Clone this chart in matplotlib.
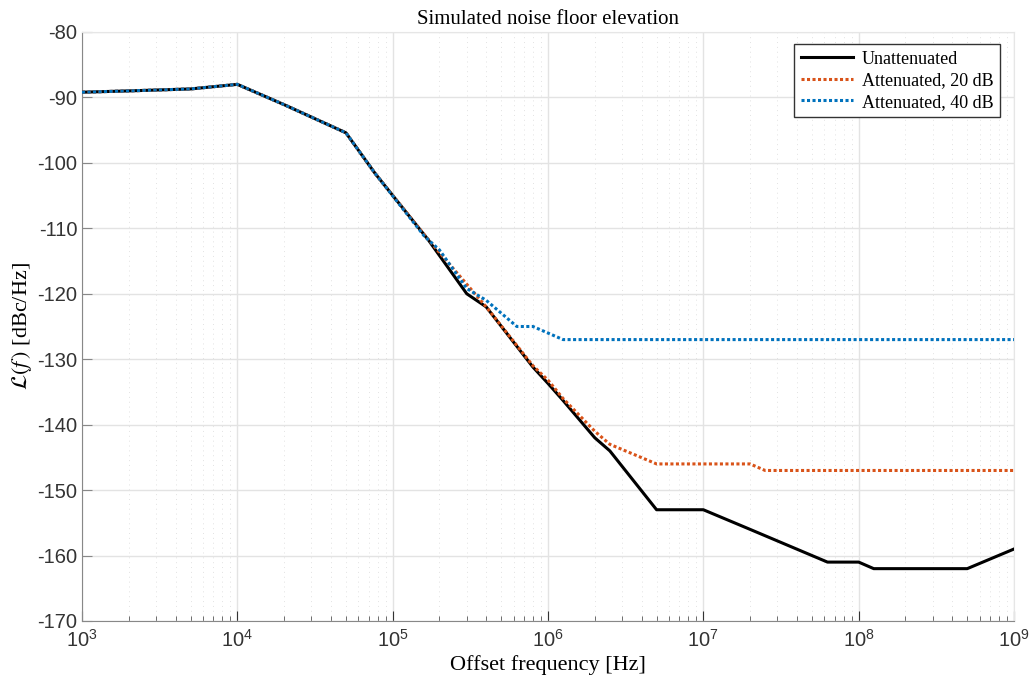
import numpy as np
import matplotlib
matplotlib.use("Agg")
import matplotlib.pyplot as plt
from matplotlib.ticker import LogLocator, FixedLocator, FuncFormatter, MultipleLocator

# datos
f_unat = [1e3, 2e3, 5e3, 1e4, 2e4, 5e4, 7.7e4, 1.7e5, 3e5, 4e5, 8e5, 1e6, 1.25e6,
          2e6, 2.5e6, 5e6, 1e7, 2e7, 6.3e7, 1e8, 1.25e8, 5e8, 1e9]
l_unat = [-89.2, -89.0, -88.7, -88.0, -91.1, -95.4, -101.6, -111.8, -120.0, -122.0,
          -131.2, -133.7, -136.3, -142.0, -144.0, -153.0, -153.0, -156.0, -161.0,
          -161.0, -162.0, -162.0, -159.0]

f_20 = [1e3, 2e3, 5e3, 1e4, 2e4, 5e4, 7.7e4, 1.6e5, 4e5, 8e5, 1e6, 1.25e6,
        2e6, 2.5e6, 5e6, 2e7, 2.5e7, 1e9]
l_20 = [-89.2, -89.0, -88.7, -88.0, -91.1, -95.4, -101.6, -111.0, -122.0, -131.0,
        -133.2, -136.0, -141.0, -143.0, -146.0, -146.0, -147.0, -147.0]

f_40 = [1e3, 2e3, 5e3, 1e4, 2e4, 5e4, 7.7e4, 1.6e5, 2e5, 3e5, 4e5, 6.3e5, 8e5,
        1.25e6, 1e9]
l_40 = [-89.2, -89.0, -88.7, -88.0, -91.1, -95.4, -101.6, -111.2, -113.3, -119.2,
        -121.0, -125.0, -125.0, -127.0, -127.0]

decadas = np.arange(3, 10)

plt.rcParams['mathtext.fontset'] = 'stix'

fig = plt.figure(figsize=(10.29, 6.77), dpi=100)
ax = fig.add_axes([82/1029, 1-621/677, (1014-82)/1029, (621-32)/677])

ax.plot(f_unat, l_unat, color='black', lw=2.2, label='Unattenuated', zorder=3)
ax.plot(f_20, l_20, color='#d95319', lw=2.2, ls=(0, (1, 0.8)), label='Attenuated, 20 dB', zorder=4)
ax.plot(f_40, l_40, color='#0072bd', lw=2.2, ls=(0, (1, 0.8)), label='Attenuated, 40 dB', zorder=5)

ax.set_xscale('log')
ax.set_xlim(1e3, 1e9)
ax.set_ylim(-170, -80)
ax.yaxis.set_major_locator(MultipleLocator(10))
ax.xaxis.set_major_locator(FixedLocator(10.0 ** decadas))
ax.xaxis.set_minor_locator(LogLocator(base=10, subs=np.arange(2, 10), numticks=20))
ax.xaxis.set_major_formatter(FuncFormatter(lambda v, p: r'$\mathregular{10^{%d}}$' % round(np.log10(v))))
ax.yaxis.set_major_formatter(FuncFormatter(lambda v, p: '%d' % v))

ax.grid(True, which='major', color='#e3e3e3', lw=1, ls='-')
ax.grid(True, which='minor', axis='x', color='#e2e2e2', lw=0.7, ls=(0, (1, 4)))
ax.set_axisbelow(True)

for s in ['top', 'right']:
    ax.spines[s].set_color('#e6e6e6')
for s in ['left', 'bottom']:
    ax.spines[s].set_color('#888888')
ax.tick_params(which='both', direction='in', colors='#333333', labelsize=14.5)
ax.tick_params(which='major', length=7, color='#333333')
ax.tick_params(which='minor', length=3.5, color='#555555')
ax.tick_params(axis='y', which='major', length=7, color='#888888')
ax.tick_params(axis='x', pad=6)
for lab in ax.get_xticklabels() + ax.get_yticklabels():
    lab.set_fontfamily('Liberation Sans')

ax.set_title('Simulated noise floor elevation', fontsize=15, family='Liberation Serif', pad=6)
ax.set_xlabel('Offset frequency [Hz]', fontsize=16, family='Liberation Serif', labelpad=3)
ax.set_ylabel(r'$\mathcal{L}(f\,)$ [dBc/Hz]', fontsize=16, family='Liberation Serif', labelpad=2)

leg = ax.legend(loc='upper right', prop={'family': 'Liberation Serif', 'size': 13},
                fancybox=False, framealpha=1, edgecolor='#333333',
                handlelength=2.9, handletextpad=0.5, borderpad=0.35, labelspacing=0.25,
                borderaxespad=0, bbox_to_anchor=(0.985, 0.979))
leg.get_frame().set_linewidth(1)

fig.savefig('out.png', dpi=100)
